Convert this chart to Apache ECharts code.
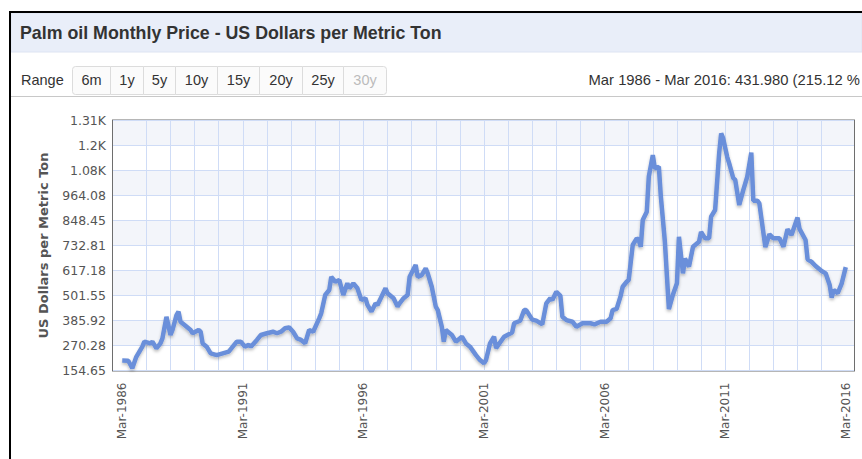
<!DOCTYPE html>
<html>
<head>
<meta charset="utf-8">
<script src="https://cdn.jsdelivr.net/npm/echarts@6/dist/echarts.min.js"></script>
<style>
  html, body { margin: 0; padding: 0; background: #fff; }
  #chart { width: 862px; height: 459px; }
</style>
</head>
<body>
<div id="chart"></div>
<script>
var dates = [
  '1986-03','1986-06','1986-08','1986-10','1987-01','1987-02','1987-05','1987-06','1987-08','1987-10','1987-11',
  '1988-01','1988-03','1988-04','1988-06','1988-07','1988-08','1988-10','1989-01','1989-02','1989-05','1989-06',
  '1989-07','1989-09','1989-11','1990-02','1990-05','1990-08','1990-10','1990-12','1991-02','1991-04','1991-06',
  '1991-07','1991-10','1991-12','1992-03','1992-06','1992-08','1992-10','1992-12','1993-02','1993-04','1993-06',
  '1993-08','1993-10','1993-12','1994-02','1994-05','1994-06','1994-08','1994-10','1994-11','1995-01','1995-03',
  '1995-05','1995-07','1995-08','1995-10','1995-12','1996-02','1996-04','1996-05','1996-07','1996-09','1996-10',
  '1996-12','1997-02','1997-03','1997-06','1997-08','1997-09','1997-11','1998-01','1998-02','1998-05','1998-06',
  '1998-08','1998-10','1998-11','1999-01','1999-03','1999-04','1999-06','1999-07','1999-08','1999-11','2000-01',
  '2000-04','2000-06','2000-08','2000-11','2001-01','2001-03','2001-04','2001-06','2001-08','2001-09','2002-01',
  '2002-05','2002-06','2002-09','2002-11','2002-12','2003-03','2003-05','2003-08','2003-10','2003-12','2004-01',
  '2004-03','2004-05','2004-06','2004-08','2004-11','2005-01','2005-04','2005-08','2005-10','2006-01','2006-04',
  '2006-06','2006-07','2006-09','2006-11','2006-12','2007-02','2007-03','2007-05','2007-07','2007-08','2007-09',
  '2007-10','2007-12','2008-01','2008-03','2008-04','2008-06','2008-07','2008-09','2008-11','2009-01','2009-03',
  '2009-04','2009-06','2009-07','2009-09','2009-11','2010-02','2010-03','2010-05','2010-07','2010-08','2010-10',
  '2010-12','2011-01','2011-02','2011-04','2011-05','2011-07','2011-08','2011-10','2011-12','2012-02','2012-04',
  '2012-05','2012-07','2012-08','2012-11','2013-01','2013-03','2013-06','2013-08','2013-10','2013-12','2014-03',
  '2014-04','2014-07','2014-08','2014-10','2014-12','2015-03','2015-05','2015-07','2015-08','2015-09','2015-11',
  '2016-01','2016-03'
];
var prices = [
  200.8, 200, 165, 218, 265, 288, 280, 288, 257, 280, 303,
  403, 319, 342, 411, 427, 380, 365, 342, 327, 342, 334,
  280, 265, 234, 226, 234, 242, 265, 288, 288, 265, 273,
  265, 296, 319, 327, 334, 327, 334, 350, 354, 334, 303,
  296, 280, 342, 334, 396, 419, 504, 527, 588, 565, 573,
  504, 558, 535, 558, 535, 481, 489, 458, 427, 465, 458,
  496, 535, 512, 489, 450, 465, 489, 504, 588, 643, 588,
  596, 627, 604, 542, 450, 434, 357, 288, 342, 319, 288,
  311, 280, 265, 226, 203, 188, 203, 280, 311, 258, 311,
  330, 373, 385, 434, 434, 390, 385, 368, 465, 489, 481,
  519, 500, 403, 388, 380, 357, 373, 373, 368, 380, 380,
  396, 434, 440, 500, 542, 565, 573, 735, 766, 758, 727,
  851, 889, 1051, 1151, 1090, 1097, 958, 750, 438, 505, 558,
  773, 604, 673, 635, 727, 750, 796, 766, 766, 866, 897,
  1159, 1251, 1228, 1143, 1113, 1045, 1036, 920, 989, 1051, 1163,
  940, 940, 928, 725, 785, 766, 766, 727, 808, 781, 862,
  810, 758, 669, 657, 638, 615, 604, 550, 492, 527, 512,
  558, 632.8
];
var yTicks = [154.65, 270.28, 385.92, 501.55, 617.18, 732.81, 848.45, 964.08, 1079.71, 1195.35, 1310.98];
var labelYears = [1986, 1991, 1996, 2001, 2006, 2011, 2016];
var gridYears = [1987, 1988, 1989, 1990, 1991, 1992, 1993, 1994, 1995, 1996, 1997, 1998, 1999, 2000, 2001,
  2002, 2003, 2004, 2005, 2006, 2007, 2008, 2009, 2010, 2011, 2012, 2013, 2014, 2015];
var rangeButtons = ['6m', '1y', '5y', '10y', '15y', '20y', '25y', '30y'];

// months counted from Mar-1986
function monthIndex(d) {
  var p = d.split('-');
  return (+p[0] - 1986) * 12 + (+p[1] - 3);
}
function yearIndex(y) { return (y - 1986) * 12; }

var seriesData = dates.map(function(d, i) { return [monthIndex(d), prices[i]]; });

// header: title band, range buttons, summary text
var btnEdges = [72, 110, 143, 175, 217, 259, 302, 343, 386];
var header = [
  { type: 'rect', shape: { x: 11, y: 13, width: 851, height: 39 }, style: { fill: '#e9eef9', stroke: '#dde4f2', lineWidth: 1 }, silent: true },
  { type: 'rect', shape: { x: 10, y: 12, width: 880, height: 470 }, style: { fill: 'none', stroke: '#000', lineWidth: 2 }, silent: true },
  { type: 'text', x: 20, y: 33, style: { text: 'Palm oil Monthly Price - US Dollars per Metric Ton', font: 'bold 17.8px "Liberation Sans", Arial, sans-serif', fill: '#333', verticalAlign: 'middle' } },
  { type: 'text', x: 21, y: 80, style: { text: 'Range', font: '14.5px "Liberation Sans", Arial, sans-serif', fill: '#333', verticalAlign: 'middle' } },
  { type: 'line', shape: { x1: 11, y1: 96.5, x2: 862, y2: 96.5 }, style: { stroke: '#c8c8c8', lineWidth: 1 } },
  // the summary runs up to the right edge, as in the reference
  { type: 'text', x: 860, y: 80, style: { text: 'Mar 1986 - Mar 2016: 431.980 (215.12 %', font: '14.8px "Liberation Sans", Arial, sans-serif', fill: '#333', align: 'right', verticalAlign: 'middle' } }
];
rangeButtons.forEach(function(b, i) {
  var x0 = btnEdges[i], x1 = btnEdges[i + 1];
  header.push({ type: 'rect', shape: { x: x0 + 0.5, y: 66.5, width: x1 - x0, height: 28, r: i === 0 ? [3, 0, 0, 3] : (i === rangeButtons.length - 1 ? [0, 3, 3, 0] : 0) },
    style: { fill: '#fbfbfb', stroke: '#dcdcdc', lineWidth: 1 } });
  header.push({ type: 'text', x: (x0 + x1) / 2 + 0.5, y: 80, style: { text: b, font: '14.5px "Liberation Sans", Arial, sans-serif', fill: i === rangeButtons.length - 1 ? '#bbb' : '#333', align: 'center', verticalAlign: 'middle' } });
});

var chart = echarts.init(document.getElementById('chart'), null, { renderer: 'svg' });
chart.setOption({
  animation: false,
  graphic: header,
  grid: { left: 113, right: 8, top: 120.5, bottom: 88.5, show: true, borderColor: '#6e6e6e', borderWidth: 2, backgroundColor: 'transparent' },
  xAxis: {
    type: 'value',
    min: -4.6,
    max: 364.1,
    axisLine: { show: false },
    axisTick: { show: false, customValues: gridYears.map(yearIndex) },
    axisLabel: {
      customValues: labelYears.map(yearIndex),
      rotate: 90,
      margin: 12,
      color: '#555',
      fontSize: 12,
      fontFamily: 'DejaVu Sans',
      formatter: function(v) { return 'Mar-' + (1986 + Math.round(v / 12)); }
    },
    splitLine: { show: true, lineStyle: { color: '#cfdcf6', width: 1 } }
  },
  yAxis: {
    type: 'value',
    min: yTicks[0],
    max: yTicks[yTicks.length - 1],
    name: 'US Dollars per Metric Ton',
    nameLocation: 'middle',
    nameGap: 63,
    nameTextStyle: { color: '#555', fontWeight: 'bold', fontSize: 13, fontFamily: 'DejaVu Sans' },
    axisLine: { show: false },
    axisTick: { show: false, customValues: yTicks },
    axisLabel: {
      customValues: yTicks,
      margin: 7,
      color: '#555',
      fontSize: 12.5,
      fontFamily: 'DejaVu Sans',
      formatter: function(v) { return v >= 1000 ? (+(v / 1000).toFixed(2)) + 'K' : v.toFixed(2); }
    },
    splitLine: { show: true, lineStyle: { color: '#cfdcf6', width: 1 } },
    splitArea: { show: true, areaStyle: { color: ['#ffffff', '#f3f5fa'] } }
  },
  series: [{
    type: 'line',
    data: seriesData,
    showSymbol: false,
    symbol: 'none',
    lineStyle: { color: '#6a8fda', width: 4.5, shadowColor: 'rgba(0,0,0,0.25)', shadowBlur: 3, shadowOffsetY: 2 },
    z: 5
  }]
});
</script>
</body>
</html>
